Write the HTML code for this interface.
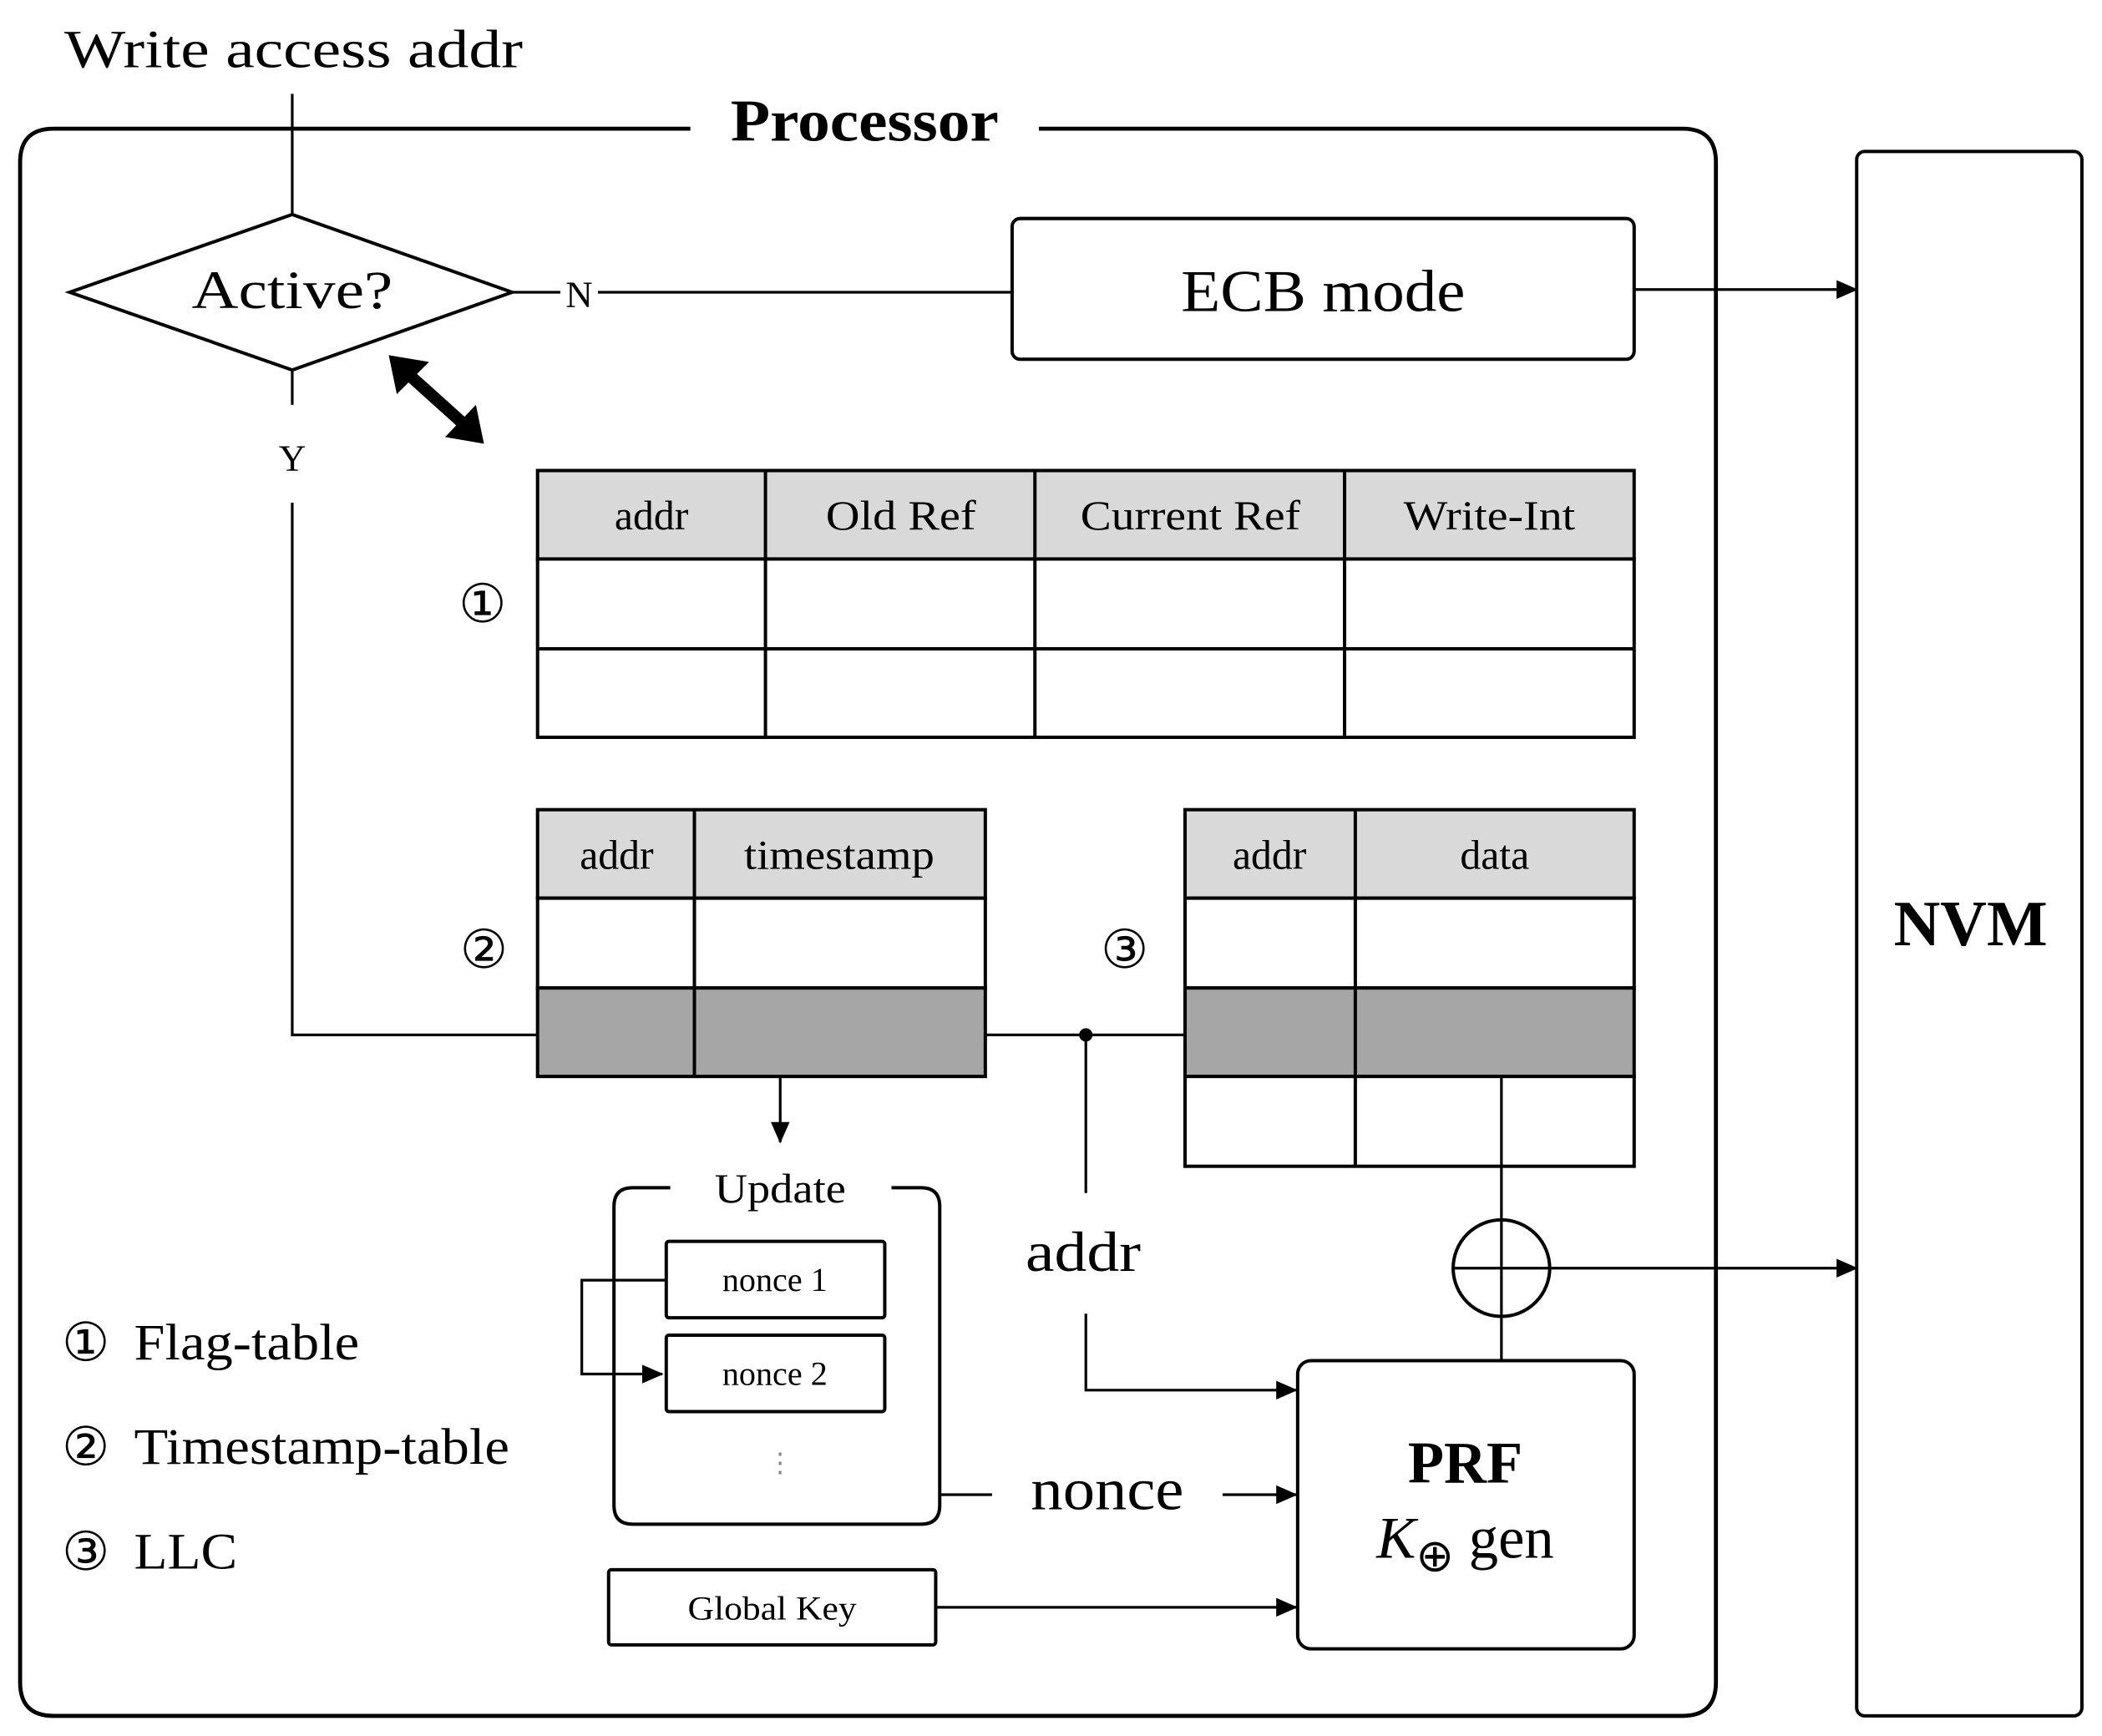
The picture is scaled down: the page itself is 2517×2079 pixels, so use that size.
<!DOCTYPE html>
<html><head><meta charset="utf-8"><style>html,body{margin:0;padding:0;background:#fff}svg{display:block}</style></head>
<body>
<svg width="2517" height="2079" viewBox="0 0 1568 1295" preserveAspectRatio="none" xmlns="http://www.w3.org/2000/svg" font-family="Liberation Serif, serif">
<defs><marker id="a" markerWidth="16" markerHeight="14" refX="15" refY="7" orient="auto" markerUnits="userSpaceOnUse"><path d="M0,0 L16,7 L0,14 z" fill="#000"/></marker></defs>
<g fill="none" stroke="#000" stroke-width="2">
<path d="M515,96 H40 Q15,96 15,121 V1255 Q15,1280 40,1280 H1255 Q1280,1280 1280,1255 V121 Q1280,96 1255,96 H775" stroke-width="3"/>
<line x1="218" y1="70" x2="218" y2="160"/>
<polygon points="52,218 218,160 382,218 218,276" stroke-width="2.5"/>
<line x1="382" y1="218" x2="418" y2="218"/><line x1="446" y1="218" x2="755" y2="218"/>
<rect x="755" y="163" width="464" height="105" rx="6" stroke-width="2.5"/>
<line x1="1219" y1="216" x2="1385" y2="216" marker-end="url(#a)"/>
<rect x="1385" y="113" width="168" height="1167" rx="6" stroke-width="2.5"/>
<line x1="218" y1="276" x2="218" y2="302"/>
<polyline points="218,375 218,772 401,772"/>
<line x1="735" y1="772" x2="884" y2="772"/>
<polyline points="810,772 810,890"/>
<polyline points="810,980 810,1037 967,1037" marker-end="url(#a)"/>
<line x1="582" y1="803" x2="582" y2="852" marker-end="url(#a)"/>
<path d="M500,886 H472 Q458,886 458,900 V1123 Q458,1137 472,1137 H687 Q701,1137 701,1123 V900 Q701,886 687,886 H665" stroke-width="2.5"/>
<rect x="497" y="926" width="163" height="57" rx="2" stroke-width="2.5"/>
<rect x="497" y="996" width="163" height="57" rx="2" stroke-width="2.5"/>
<polyline points="497,955 434,955 434,1025 494,1025" marker-end="url(#a)"/>
<line x1="701" y1="1115" x2="740" y2="1115"/>
<line x1="912" y1="1115" x2="967" y2="1115" marker-end="url(#a)"/>
<rect x="454" y="1171" width="244" height="56" rx="2" stroke-width="2.5"/>
<line x1="698" y1="1199" x2="967" y2="1199" marker-end="url(#a)"/>
<rect x="968" y="1015" width="251" height="215" rx="10" stroke-width="2.5"/>
<line x1="1120" y1="803" x2="1120" y2="1015"/>
<circle cx="1120" cy="946" r="36" stroke-width="2.5"/>
<line x1="1084" y1="946" x2="1156" y2="946"/>
<line x1="1156" y1="946" x2="1385" y2="946" marker-end="url(#a)"/>
</g>
<line x1="300" y1="275" x2="350" y2="320" stroke="#000" stroke-width="9"/>
<polygon points="290,265 320,270 296,294" fill="#000"/>
<polygon points="361,331 332,326 355,302" fill="#000"/>
<circle cx="810" cy="772" r="5" fill="#000"/>
<g stroke="#000" stroke-width="2.5">
<rect x="401" y="351" width="818" height="66" fill="#d9d9d9"/>
<rect x="401" y="417" width="818" height="133" fill="#fff"/>
<line x1="401" y1="484" x2="1219" y2="484"/>
<line x1="571" y1="351" x2="571" y2="550"/><line x1="772" y1="351" x2="772" y2="550"/><line x1="1003" y1="351" x2="1003" y2="550"/>
<rect x="401" y="604" width="334" height="66" fill="#d9d9d9"/>
<rect x="401" y="670" width="334" height="67" fill="#fff"/>
<rect x="401" y="737" width="334" height="66" fill="#a6a6a6"/>
<line x1="518" y1="604" x2="518" y2="803"/>
<rect x="884" y="604" width="335" height="66" fill="#d9d9d9"/>
<rect x="884" y="670" width="335" height="67" fill="#fff"/>
<rect x="884" y="737" width="335" height="66" fill="#a6a6a6"/>
<rect x="884" y="803" width="335" height="67" fill="#fff"/>
<line x1="1011" y1="604" x2="1011" y2="870"/>
</g>
<line x1="1120" y1="803" x2="1120" y2="870" stroke="#000" stroke-width="2"/>
<g fill="#000" text-anchor="middle">
<text x="48" y="50" font-size="40" text-anchor="start" textLength="342" lengthAdjust="spacingAndGlyphs">Write access addr</text>
<text x="645" y="105" font-size="44" font-weight="bold" textLength="200" lengthAdjust="spacingAndGlyphs">Processor</text>
<text x="218" y="230" font-size="40" textLength="150" lengthAdjust="spacingAndGlyphs">Active?</text>
<text x="432" y="229" font-size="28">N</text>
<text x="218" y="351" font-size="28">Y</text>
<text x="987" y="232" font-size="44" textLength="212" lengthAdjust="spacingAndGlyphs">ECB mode</text>
<text x="1470" y="705" font-size="48" font-weight="bold">NVM</text>
<text x="486" y="395" font-size="31">addr</text>
<text x="672" y="395" font-size="31" textLength="112" lengthAdjust="spacingAndGlyphs">Old Ref</text>
<text x="888" y="395" font-size="31" textLength="164" lengthAdjust="spacingAndGlyphs">Current Ref</text>
<text x="1111" y="395" font-size="31" textLength="128" lengthAdjust="spacingAndGlyphs">Write-Int</text>
<text x="360" y="464" font-size="40">①</text>
<text x="460" y="648" font-size="31">addr</text>
<text x="626" y="648" font-size="31" textLength="142" lengthAdjust="spacingAndGlyphs">timestamp</text>
<text x="361" y="722" font-size="40">②</text>
<text x="947" y="648" font-size="31">addr</text>
<text x="1115" y="648" font-size="31">data</text>
<text x="839" y="722" font-size="40">③</text>
<text x="808" y="948" font-size="42" textLength="86" lengthAdjust="spacingAndGlyphs">addr</text>
<text x="582" y="897" font-size="31" textLength="98" lengthAdjust="spacingAndGlyphs">Update</text>
<text x="578" y="963" font-size="25">nonce 1</text>
<text x="578" y="1033" font-size="25">nonce 2</text>
<text x="582" y="1098" font-size="20" fill="#888">⋮</text>
<text x="826" y="1126" font-size="44" textLength="114" lengthAdjust="spacingAndGlyphs">nonce</text>
<text x="576" y="1208" font-size="25" textLength="126" lengthAdjust="spacingAndGlyphs">Global Key</text>
<text x="1093" y="1106" font-size="44" font-weight="bold">PRF</text>
<text x="1093" y="1162" font-size="44"><tspan font-style="italic">K</tspan><tspan font-size="34" dy="10">⊕</tspan><tspan dy="-10"> gen</tspan></text>
<text x="64" y="1015" font-size="40">①</text>
<text x="64" y="1093" font-size="40">②</text>
<text x="64" y="1171" font-size="40">③</text>
<text x="100" y="1014" font-size="38" text-anchor="start" textLength="168" lengthAdjust="spacingAndGlyphs">Flag-table</text>
<text x="100" y="1092" font-size="38" text-anchor="start" textLength="280" lengthAdjust="spacingAndGlyphs">Timestamp-table</text>
<text x="100" y="1170" font-size="38" text-anchor="start" textLength="77" lengthAdjust="spacingAndGlyphs">LLC</text>
</g>
</svg>
</body></html>
